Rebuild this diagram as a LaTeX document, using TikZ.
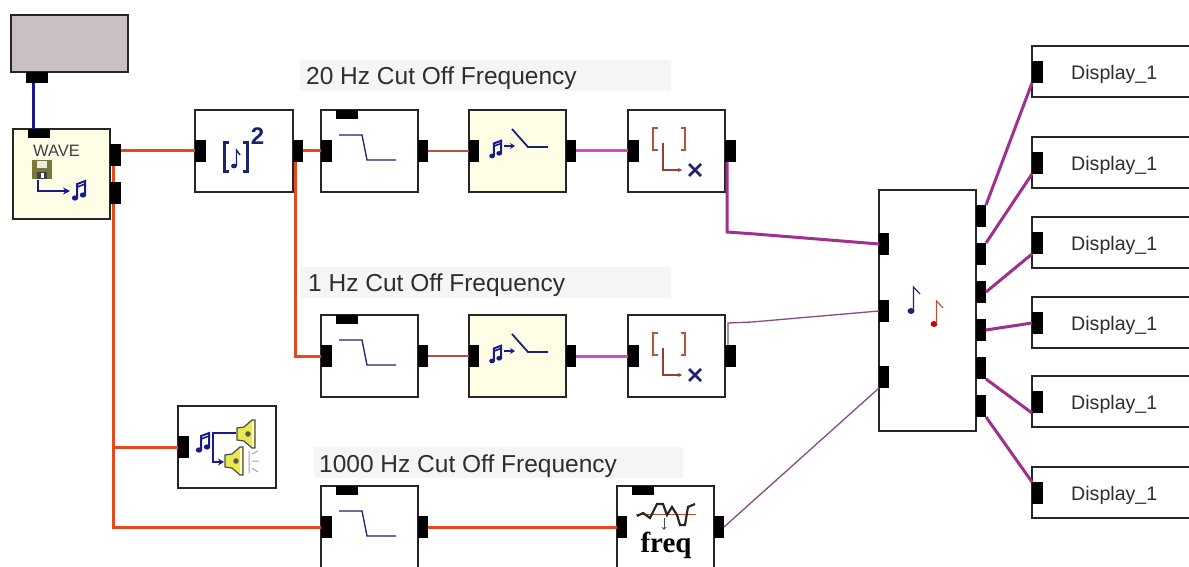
\documentclass[tikz,border=0pt]{standalone}
\usepackage{fontspec}
\setmainfont{Liberation Sans}
\newfontfamily\freqfont{Liberation Serif}
\usetikzlibrary{calc,arrows.meta}
\definecolor{navyw}{HTML}{1A1A8C}
\definecolor{navyi}{HTML}{1C2470}
\definecolor{orangew}{HTML}{E4491F}
\definecolor{brownw}{HTML}{B4523C}
\definecolor{magw}{HTML}{D04CC4}
\definecolor{purw}{HTML}{A0308E}
\definecolor{purt}{HTML}{8A4A86}
\definecolor{creamb}{HTML}{FEFDE6}
\definecolor{grayb}{HTML}{C8C0C4}
\definecolor{redi}{HTML}{B8523C}
\definecolor{labelbg}{HTML}{F5F5F5}
\definecolor{inktext}{HTML}{2E2E2E}
\definecolor{olivei}{HTML}{77783A}
\definecolor{speakery}{HTML}{EAEA50}
\tikzset{
  blockbox/.style={draw=black!85,line width=1.3pt,fill=white,inner sep=0pt,outer sep=0pt},
  creambox/.style={blockbox,fill=creamb},
  graybox/.style={blockbox,fill=grayb,line width=1.6pt},
  portbox/.style={fill=black,draw=none,inner sep=0pt,outer sep=0pt},
  labelbox/.style={fill=labelbg,draw=none,inner sep=0pt,outer sep=0pt},
  labeltext/.style={anchor=base west,inner sep=0pt,text=inktext,font=\fontsize{24.5}{26}\selectfont},
  disptext/.style={anchor=base west,inner sep=0pt,text=inktext,font=\fontsize{19.6}{22}\selectfont},
  wireblue/.style={navyw,line width=3pt},
  wireorange/.style={orangew,line width=3pt},
  wirethin/.style={brownw,line width=1.6pt},
  wiremag/.style={magw,line width=3pt},
  wirepur/.style={purw,line width=3pt},
  wirepurthin/.style={purt,line width=1.3pt},
  iconline/.style={navyi,line width=1.3pt},
}
\newcommand{\bx}[6]{%
  \pgfmathsetmacro{\bxw}{(#5)-(#3)}\pgfmathsetmacro{\bxh}{(#6)-(#4)}%
  \node[#1,minimum width=\bxw pt,minimum height=\bxh pt] (#2) at ({((#3)+(#5))/2},{((#4)+(#6))/2}) {};}
% low-pass block: x, y = top-left
\newcommand{\lowpass}[3]{%
  \bx{blockbox}{#1}{#2}{#3}{#2+97}{#3+82}
  \bx{portbox}{#1t}{#2+15}{#3}{#2+37}{#3+9}
  \bx{portbox}{#1l}{#2}{#3+30}{#2+11}{#3+52}
  \bx{portbox}{#1r}{#2+97}{#3+30}{#2+107}{#3+52}
  \draw[iconline] ({#2+18},{#3+25}) -- ({#2+41},{#3+25}) -- ({#2+46},{#3+50}) -- ({#2+75},{#3+50});}
% beamed note with origin at its lower-left head
\newcommand{\beamnote}[3]{%
  \begin{scope}[shift={(#1,#2)},scale=#3]
    \fill[navyw] (0,0) ellipse (3.2 and 2.6);
    \fill[navyw] (8,-3) ellipse (3.2 and 2.6);
    \draw[navyw,line width=2pt] (2.2,0) -- (2.2,-14) -- (10.2,-17) -- (10.2,-3);
    \draw[navyw,line width=1.6pt] (2.2,-11) -- (10.2,-14);
  \end{scope}}
% switch block
\newcommand{\switchblk}[3]{%
  \bx{creambox}{#1}{#2}{#3}{#2+97}{#3+82}
  \bx{portbox}{#1l}{#2}{#3+30}{#2+10}{#3+52}
  \bx{portbox}{#1r}{#2+97}{#3+30}{#2+107}{#3+52}
  \beamnote{#2+23}{#3+46}{0.9}
  \draw[navyw,line width=2pt,-{Stealth[length=5pt,width=6pt]}] ({#2+35},{#3+36}) -- ({#2+46},{#3+36});
  \draw[iconline,line width=1.8pt] ({#2+43},{#3+19}) -- ({#2+59},{#3+37}) -- ({#2+79},{#3+37});}
% picker block
\newcommand{\pickblk}[3]{%
  \bx{blockbox}{#1}{#2}{#3}{#2+97}{#3+82}
  \bx{portbox}{#1l}{#2}{#3+30}{#2+11}{#3+52}
  \bx{portbox}{#1r}{#2+97}{#3+30}{#2+108}{#3+52}
  \draw[redi,line width=2.6pt] ({#2+30},{#3+18}) -- ({#2+25},{#3+18}) -- ({#2+25},{#3+40}) -- ({#2+30},{#3+40});
  \draw[redi,line width=2.6pt] ({#2+53},{#3+18}) -- ({#2+57},{#3+18}) -- ({#2+57},{#3+40}) -- ({#2+53},{#3+40});
  \draw[brownw!80!black,line width=1.1pt,-{Stealth[length=4pt,width=4pt]}] ({#2+35},{#3+33}) -- ({#2+35},{#3+60}) -- ({#2+54},{#3+60});
  \draw[navyi,line width=2.6pt] ({#2+61},{#3+54}) -- ({#2+73},{#3+66}) ({#2+73},{#3+54}) -- ({#2+61},{#3+66});}
% display block
\newcommand{\displayblk}[2]{%
  \bx{blockbox}{#1}{1032}{#2}{1196}{#2+51}
  \bx{portbox}{#1p}{1032}{#2+15}{1043}{#2+37}
  \node[disptext] at (1071,#2+33.5) {Display\_1};}
% speaker, mouth to the right
\newcommand{\speaker}[2]{%
  \begin{scope}[shift={(#1,#2)}]
    \fill[speakery,draw=black!70,line width=1.2pt] (-9,-6) -- (-2,-7) -- (6,-14) -- (9,-14) -- (9,14) -- (6,14) -- (-2,7) -- (-9,6) -- cycle;
    \fill[white!70!speakery] (6,-13) rectangle (8.4,13);
    \fill[black!65] (2,0) circle (2.8);
  \end{scope}}
\begin{document}
\begin{tikzpicture}[x=1pt,y=-1pt]
\useasboundingbox (0,0) rectangle (1189,567);
\clip (0,0) rectangle (1189,567);
\fill[white] (0,0) rectangle (1189,567);
% caption strips
\bx{labelbox}{lab1}{300}{60}{671}{91}
\bx{labelbox}{lab2}{300}{267}{671}{298}
\bx{labelbox}{lab3}{314}{447}{683}{478}
\node[labeltext] (cap1) at (306,85) {20 Hz Cut Off Frequency};
\node[labeltext] (cap2) at (308,291) {1 Hz Cut Off Frequency};
\node[labeltext] (cap3) at (319,472) {1000 Hz Cut Off Frequency};
% source blocks
\bx{graybox}{src}{11}{15}{128}{72}
\bx{portbox}{srcp}{26}{72}{48}{83}
\bx{creambox}{wave}{13}{129}{110}{219}
\bx{portbox}{wavet}{28}{129}{50}{138}
\bx{portbox}{waver}{110}{144}{121}{166}
\bx{portbox}{wavers}{110}{182}{121}{204}
\node[inner sep=0pt,text=black!75,font=\fontsize{16.5}{17}\selectfont] (wavetxt) at (56.5,151) {WAVE};
\fill[olivei] (32,160) rectangle (52,179);
\fill[white!85!olivei] (37,161) rectangle (47,168);
\fill[black!75] (37,172) rectangle (47,179);
\fill[white] (41,173) rectangle (44,178);
\draw[navyw,line width=1.6pt,-{Stealth[length=7pt,width=7pt]}] (38,180) -- (38,191) -- (70,191);
\beamnote{75}{198}{1}
% squarer
\bx{blockbox}{sq}{195}{110}{293}{192}
\bx{portbox}{sql}{195}{140}{206}{162}
\bx{portbox}{sqr}{293}{140}{303}{162}
\draw[navyi,line width=3pt] (229,143) -- (224.5,143) -- (224.5,172) -- (229,172);
\draw[navyi,line width=3pt] (243,143) -- (247.5,143) -- (247.5,172) -- (243,172);
\fill[navyi] (234,166) ellipse (3 and 2.4);
\draw[navyi,line width=1.4pt] (236.5,166) -- (236.5,150) -- (240,155);
\node[inner sep=0pt,text=navyi,font=\bfseries\fontsize{24}{24}\selectfont] (sqtwo) at (257.5,136.5) {2};
% rows
\lowpass{lpa}{321}{110}
\switchblk{swa}{469}{110}
\pickblk{pka}{628}{110}
\lowpass{lpb}{321}{315}
\switchblk{swb}{469}{315}
\pickblk{pkb}{628}{315}
\lowpass{lpc}{321}{486}
% speakers
\bx{blockbox}{spk}{178}{406}{276}{488}
\bx{portbox}{spkl}{178}{436}{189}{458}
\beamnote{199}{450}{1}
\draw[navyw,line width=2.4pt,-{Stealth[length=6pt,width=7pt]}] (236,433) -- (213,433) -- (213,462) -- (224,462);
\speaker{246}{434}
\speaker{234}{461}
\draw[black!35,line width=1pt] (249,451) -- (249,473) (252,454) -- (258,451) (252,461) -- (259,461) (252,468) -- (258,472);
% freq block
\bx{blockbox}{frq}{617}{486}{714}{575}
\bx{portbox}{frqt}{632}{486}{654}{495}
\bx{portbox}{frql}{617}{516}{627}{538}
\bx{portbox}{frqr}{714}{516}{724}{538}
\draw[brownw,line width=0.9pt] (636,514) -- (696,514);
\draw[black!85,line width=2.2pt] (637,516) -- (643,513) -- (650,518) -- (657,504) -- (663,504) -- (667,515) -- (672,507) -- (677,515) -- (680,525) -- (685,525) -- (688,507) -- (695,504);
\draw[black!70,line width=0.9pt,-{Stealth[length=3pt,width=5pt,open]}] (664,518) -- (664,530);
\node[anchor=base,inner sep=0pt,font=\freqfont\bfseries\fontsize{29}{29}\selectfont,text=black] (frqtxt) at (666,552) {freq};
% mixer
\bx{blockbox}{mix}{879}{190}{976}{431}
\bx{portbox}{mixa}{879}{233}{889}{255}
\bx{portbox}{mixb}{879}{300}{889}{322}
\bx{portbox}{mixc}{879}{366}{889}{388}
\bx{portbox}{mo1}{976}{205}{986}{227}
\bx{portbox}{mo2}{976}{243}{986}{265}
\bx{portbox}{mo3}{976}{281}{986}{303}
\bx{portbox}{mo4}{976}{319}{986}{341}
\bx{portbox}{mo5}{976}{357}{986}{379}
\bx{portbox}{mo6}{976}{395}{986}{417}
\fill[navyi] (911,311) ellipse (3.4 and 3);
\draw[navyi,line width=1.1pt] (913.5,311) -- (913.5,287) -- (920,294);
\fill[red!80!black] (934,324) ellipse (3.4 and 3);
\draw[brownw,line width=1.1pt] (936.5,324) -- (936.5,301) -- (943,308);
% displays
\displayblk{da}{46}
\displayblk{db}{137}
\displayblk{dc}{217}
\displayblk{dd}{297}
\displayblk{de}{376}
\displayblk{df}{467}
% junction and bend points
\coordinate (wv) at (113,204);
\coordinate (wj) at (113,447);
\coordinate (wb) at (113,527);
\coordinate (sqv) at (295,162);
\coordinate (sqb) at (295,356);
\coordinate (pka1) at (727,162);
\coordinate (pka2) at (727,232);
\coordinate (pka3) at (755,234);
\coordinate (pkb1) at (728,345);
\coordinate (pkb2) at (728,323);
\coordinate (pkb3) at (752,322);
% connectors
\draw[wireblue] (srcp.south -| 33,0) -- (wavet.north -| 33,0);
\draw[wireorange] (waver.east |- sql.west) -- (sql.west);
\draw[wireorange] (113,166) -- (113,182);
\draw[wireorange] (wv) -- (wj) -- (wb) -- (lpcl.west);
\draw[wireorange] (wj) -- (spkl.west);
\draw[wireorange] (sqr.east) -- (lpal.west);
\draw[wireorange] (sqv) -- (sqb) -- (lpbl.west);
\draw[wirethin] (lpar.east) -- (swal.west);
\draw[wirethin] (lpbr.east) -- (swbl.west);
\draw[wiremag] (swar.east) -- (pkal.west);
\draw[wiremag] (swbr.east) -- (pkbl.west);
\draw[wireorange] (lpcr.east) -- (frql.west);
\draw[wirepur] (pka1) -- (pka2) -- (pka3) -- (mixa.west);
\draw[wirepurthin] (pkb1) -- (pkb2) -- (pkb3) -- (mixb.west);
\draw[wirepurthin] (frqr.east) -- (mixc.south west);
\draw[wirepur] (mo1.north east) -- (dap.south west);
\draw[wirepur] (mo2.north east) -- (dbp.south west);
\draw[wirepur] (mo3.east) -- (dcp.south west);
\draw[wirepur] (mo4.east) -- (ddp.west);
\draw[wirepur] (mo5.south east) -- (dep.south west);
\draw[wirepur] (mo6.south east) -- (dfp.north west);
\end{tikzpicture}
\end{document}
